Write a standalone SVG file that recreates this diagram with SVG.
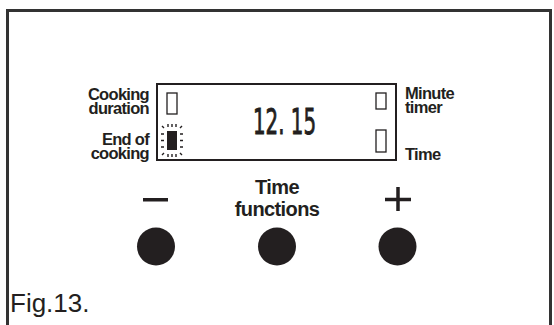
<svg xmlns="http://www.w3.org/2000/svg" width="554" height="325" viewBox="0 0 554 325">
<style>
.lbl{font-family:"Liberation Sans",Arial,sans-serif;font-weight:bold;font-size:16.5px;fill:#231f20;letter-spacing:-0.7px}
.big{font-family:"Liberation Sans",Arial,sans-serif;font-weight:bold;font-size:20px;fill:#231f20;letter-spacing:-0.6px}
.ind{fill:#fff;stroke:#231f20;stroke-width:1.3}
.btn{fill:#231f20}
.dash{stroke:#231f20;stroke-width:1.4;fill:none}
</style>
<rect width="554" height="325" fill="#fff"/>
<g id="frame"><path d="M7.5 325 V10.5 H550.5 V325" fill="none" stroke="#333" stroke-width="3"/></g>
<g id="display">
<rect x="157" y="84" width="239" height="76" fill="#fff" stroke="#231f20" stroke-width="2"/>
<text x="284.5" y="134" font-family="'Liberation Sans Narrow','DejaVu Sans Condensed',sans-serif" font-size="36" fill="#231f20" stroke="#231f20" stroke-width="0.9" text-anchor="middle" textLength="63" lengthAdjust="spacingAndGlyphs">12. 15</text>
</g>
<g id="ind-cooking-duration"><rect class="ind" x="167" y="93" width="10" height="21"/></g>
<g id="ind-end-of-cooking">
<rect x="167" y="131" width="10" height="19" fill="#231f20"/>
<path class="dash" d="M168 124v3M172 124v3M176 124v3M168 154v3M172 154v3M176 154v3M161 134h3M161 140.5h3M161 147h3M180 134h3M180 140.5h3M180 147h3M162 126l2 2M182 126l-2 2M162 155l2 -2M182 155l-2 -2"/>
</g>
<g id="ind-minute-timer"><rect class="ind" x="376" y="93" width="10" height="16"/></g>
<g id="ind-time"><rect class="ind" x="376" y="130" width="10" height="22"/></g>
<g id="label-cooking-duration"><text class="lbl" text-anchor="end"><tspan x="149" y="100">Cooking</tspan><tspan x="149" y="114">duration</tspan></text></g>
<g id="label-end-of-cooking"><text class="lbl" text-anchor="end"><tspan x="149" y="145">End of</tspan><tspan x="149" y="159">cooking</tspan></text></g>
<g id="label-minute-timer"><text class="lbl" text-anchor="start"><tspan x="405" y="99">Minute</tspan><tspan x="405" y="113">timer</tspan></text></g>
<g id="label-time"><text class="lbl" x="405" y="160" text-anchor="start">Time</text></g>
<g id="btn-minus"><rect x="143" y="198" width="25" height="3.5" fill="#231f20"/><circle class="btn" cx="156" cy="246.5" r="19"/></g>
<g id="btn-time-functions"><text class="big" text-anchor="middle"><tspan x="277" y="194">Time</tspan><tspan x="277" y="216">functions</tspan></text><circle class="btn" cx="277" cy="246.5" r="19"/></g>
<g id="btn-plus"><path d="M385 199.5h26M398 187v24" stroke="#231f20" stroke-width="3.5"/><circle class="btn" cx="397.5" cy="246.5" r="19"/></g>
<g id="connectors"/>
<text x="10" y="312" font-family="'Liberation Sans',Arial,sans-serif" font-size="26" fill="#231f20">Fig.13.</text>
</svg>
